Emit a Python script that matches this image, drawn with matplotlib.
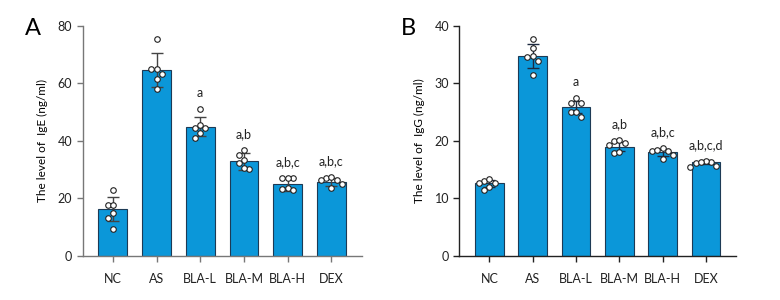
import numpy as np
import matplotlib
matplotlib.use("Agg")
import matplotlib.pyplot as plt

plt.rcParams["font.family"] = ["Lato", "DejaVu Sans"]

groups = ["NC", "AS", "BLA-L", "BLA-M", "BLA-H", "DEX"]

# IgE (ng/ml)
ige_mean = [16.2, 64.6, 44.9, 32.9, 24.9, 25.8]
ige_sd = [4.2, 6.0, 3.3, 3.0, 2.3, 1.4]
ige_points = [
    [22.8, 17.8, 17.8, 14.8, 13.2, 9.5],
    [75.5, 65.0, 65.0, 63.3, 61.4, 58.0],
    [51.0, 44.6, 44.6, 45.6, 42.7, 40.9],
    [36.9, 35.2, 33.4, 32.2, 30.3, 30.5],
    [27.0, 27.0, 27.0, 23.5, 23.0, 23.2],
    [27.0, 26.3, 26.3, 27.4, 23.7, 25.0],
]
ige_labels = ["", "", "a", "a,b", "a,b,c", "a,b,c"]

# IgG (ng/ml)
igg_mean = [12.6, 34.8, 25.9, 19.0, 18.0, 16.3]
igg_sd = [0.6, 2.1, 1.1, 0.8, 0.6, 0.3]
igg_points = [
    [13.0, 12.6, 12.6, 13.3, 11.9, 11.4],
    [37.7, 36.1, 34.5, 34.7, 33.8, 31.5],
    [27.5, 26.6, 26.6, 25.0, 25.0, 24.2],
    [19.9, 20.2, 19.3, 19.6, 17.9, 18.1],
    [18.7, 18.3, 18.3, 18.4, 16.9, 17.6],
    [16.3, 16.2, 16.5, 16.3, 15.5, 15.6],
]
igg_labels = ["", "", "a", "a,b", "a,b,c", "a,b,c,d"]

BAR = "#0b97d9"


def swarm(vals, ymax, step=0.12, thr=0.035):
    # simple swarm: nudge points sideways when they sit close together
    order = np.argsort(vals)[::-1]
    xs = np.zeros(len(vals))
    placed = []
    for i in order:
        y = vals[i] / ymax
        for k in [0, -1, 1, -2, 2, -3, 3]:
            x = k * step
            if all(abs(y - py) > thr or abs(x - px) > step * 0.9 for px, py in placed):
                break
        xs[i] = x
        placed.append((x, y))
    return xs


def panel(ax, means, sds, points, labels, ymax, yticks, ylabel, axcol, errcol):
    x = np.arange(len(groups))
    ax.bar(x, means, width=0.66, color=BAR, edgecolor="#1d3a55", linewidth=0.8, zorder=1)
    ax.errorbar(x, means, yerr=sds, fmt="none", ecolor=errcol, elinewidth=1.0,
                capsize=4.5, capthick=1.0, zorder=2)
    for i, pts in enumerate(points):
        off = swarm(pts, ymax)
        ax.scatter(x[i] + off, pts, s=16, facecolor="white", edgecolor="#222222",
                   linewidth=0.8, zorder=3)
    for i, lab in enumerate(labels):
        if lab:
            top = max(max(points[i]), means[i] + sds[i])
            ax.annotate(lab, (x[i], top), xytext=(0, 7), textcoords="offset points",
                        ha="center", va="bottom", fontsize=9, color="#222222")
    ax.set_xlim(-0.69, 5.7)
    ax.set_ylim(0, ymax)
    ax.set_yticks(yticks)
    ax.set_xticks(x)
    ax.set_xticklabels(groups)
    ax.set_ylabel(ylabel, fontsize=8.5, labelpad=7)
    for s in ["top", "right"]:
        ax.spines[s].set_visible(False)
    for s in ["left", "bottom"]:
        ax.spines[s].set_color(axcol)
        ax.spines[s].set_linewidth(1.0)
    ax.tick_params(axis="both", colors=axcol, labelcolor="#222222", labelsize=9,
                   length=4, width=1.0)
    ax.tick_params(axis="x", pad=8)


fig = plt.figure(figsize=(7.8, 3.0), dpi=100)
axA = fig.add_axes([0.106, 0.147, 0.358, 0.767])
axB = fig.add_axes([0.589, 0.147, 0.355, 0.767])

panel(axA, ige_mean, ige_sd, ige_points, ige_labels, 80, [0, 20, 40, 60, 80],
      "The level of  IgE (ng/ml)", "#777777", "#444444")
panel(axB, igg_mean, igg_sd, igg_points, igg_labels, 40, [0, 10, 20, 30, 40],
      "The level of  IgG (ng/ml)", "#222222", "#1d2a40")

fig.text(0.042, 0.905, "A", fontsize=17, ha="center", va="center")
fig.text(0.524, 0.905, "B", fontsize=17, ha="center", va="center")

fig.savefig("out.png", dpi=100)
